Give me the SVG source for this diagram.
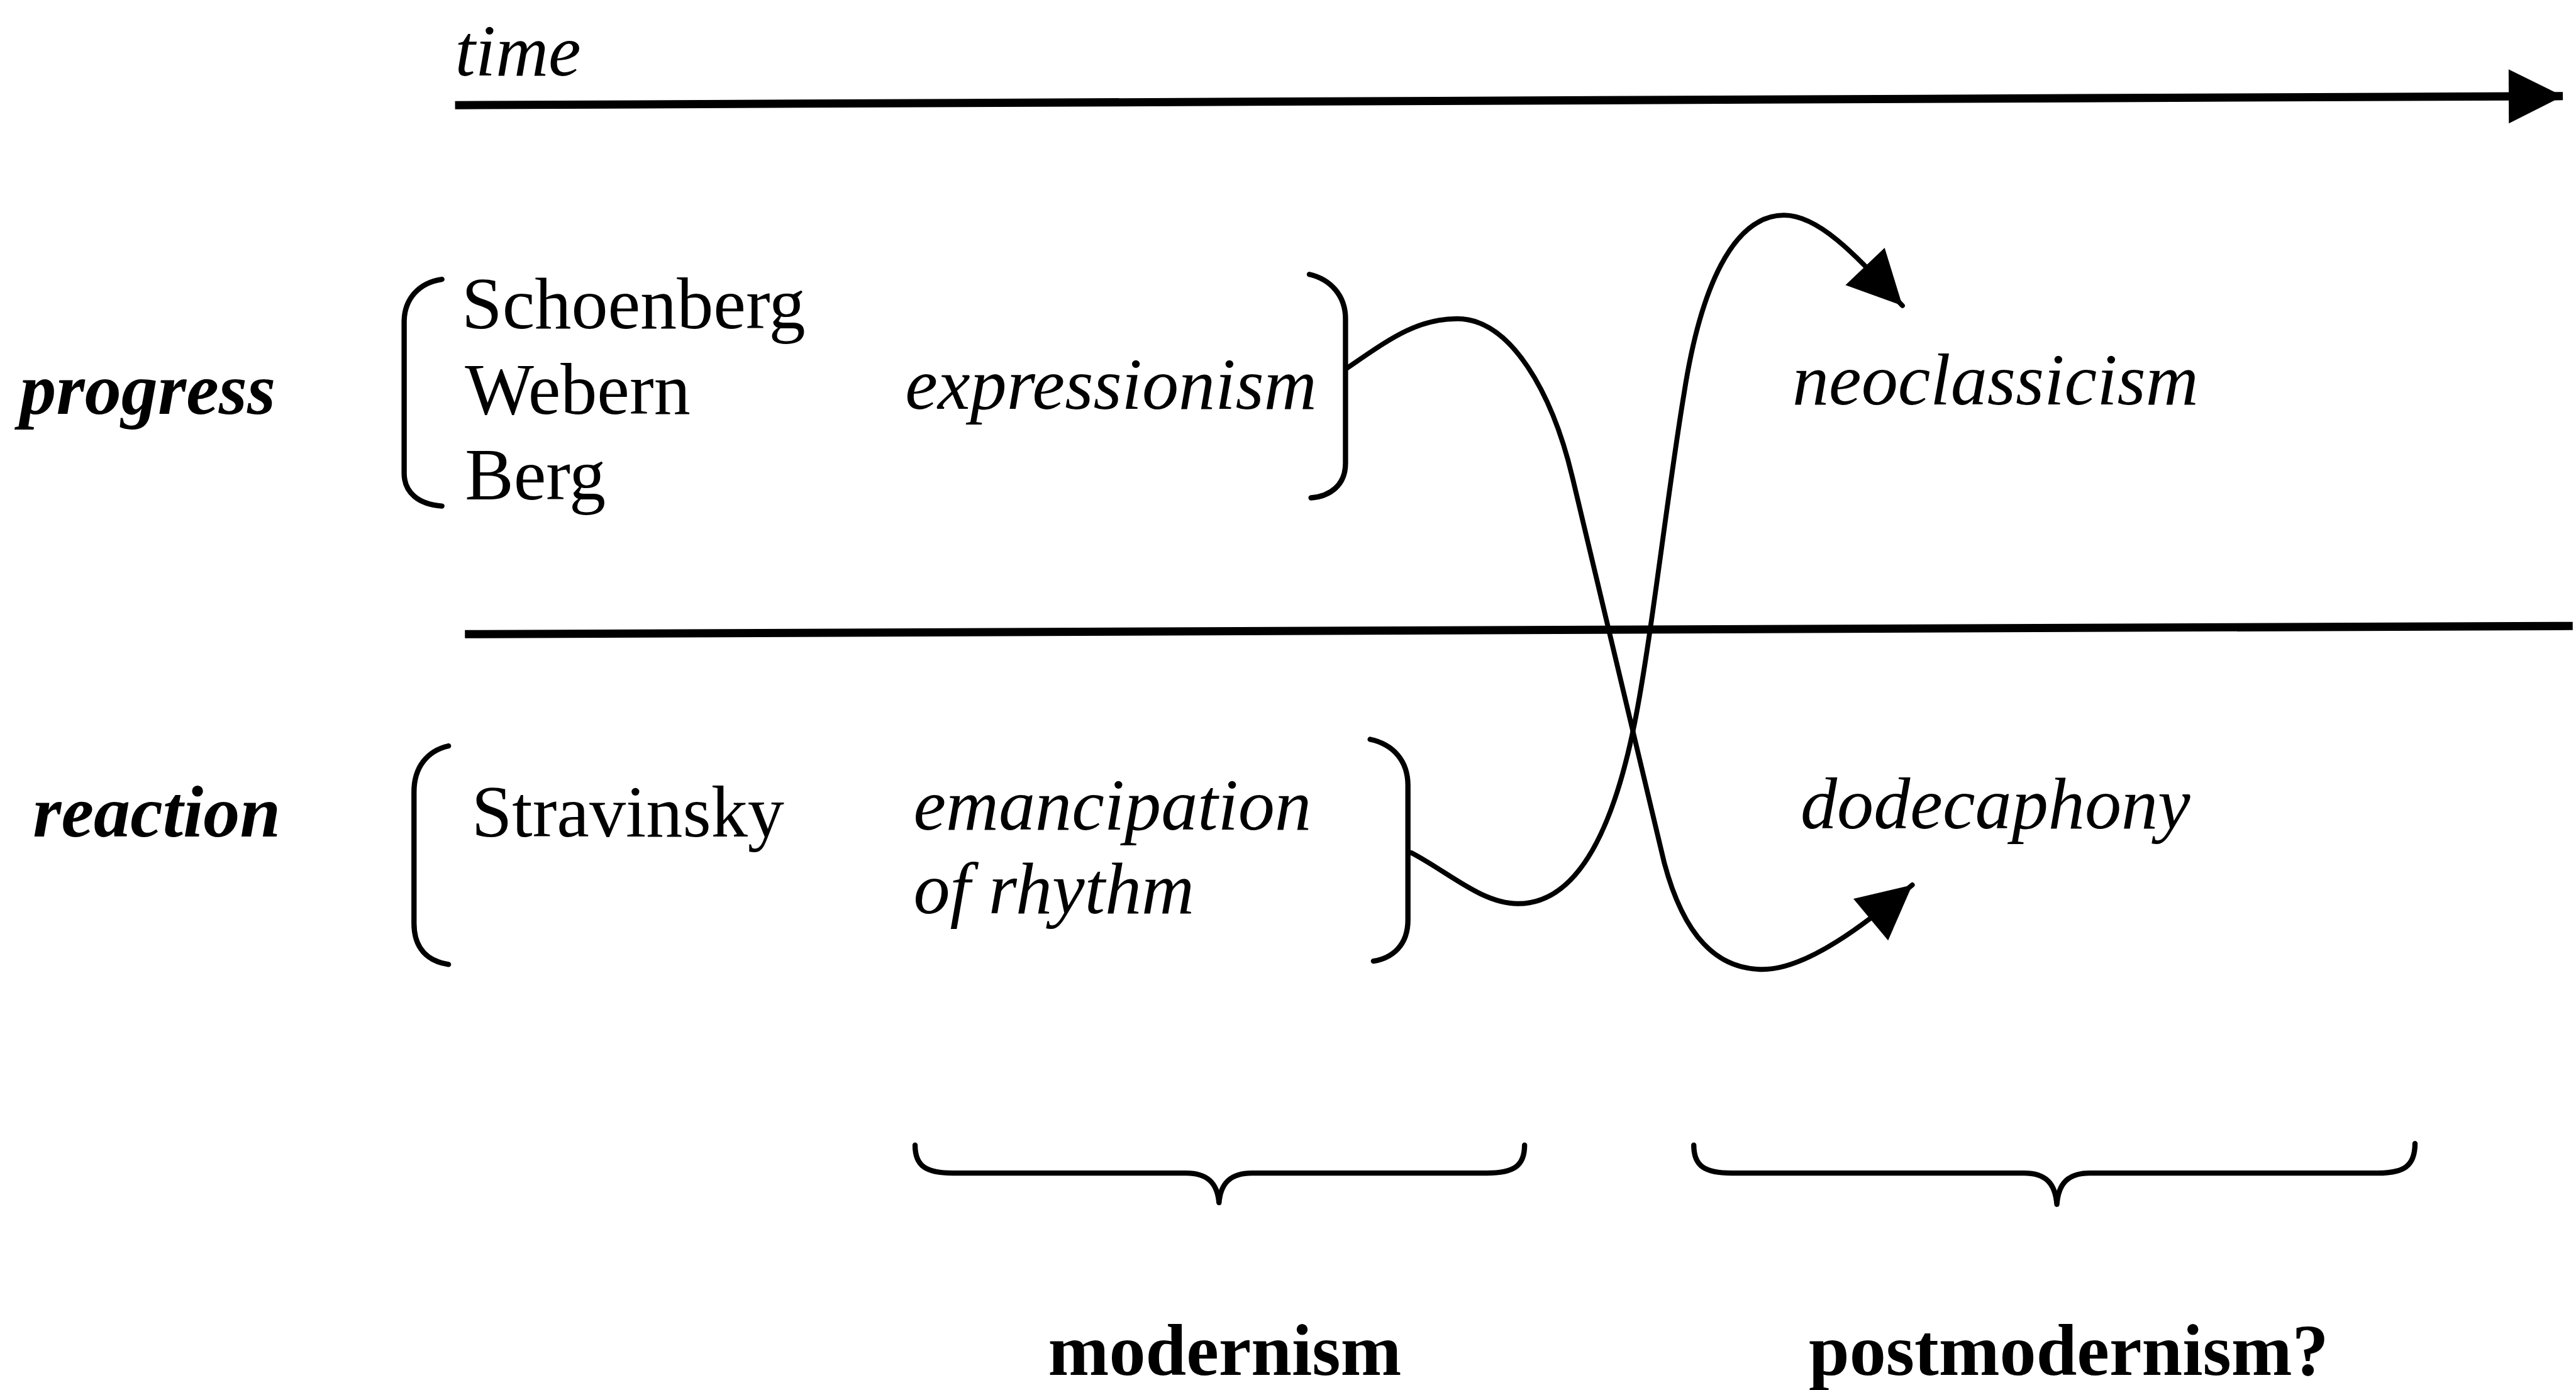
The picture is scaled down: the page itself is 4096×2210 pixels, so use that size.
<svg xmlns="http://www.w3.org/2000/svg" width="4096" height="2210" viewBox="0 0 4096 2210">
<style>
text{font-family:"Liberation Serif","Times New Roman",serif;font-size:44.5px;fill:#000}
.it{font-style:italic}
.bi{font-style:italic;font-weight:bold}
.b{font-weight:bold}
.br{fill:none;stroke:#000;stroke-width:3.2;stroke-linecap:round;stroke-linejoin:round}
.rule{fill:none;stroke:#000;stroke-width:5}
.con{fill:none;stroke:#000;stroke-width:3;stroke-linecap:round}
</style>
<defs>
<marker id="ah" markerUnits="userSpaceOnUse" markerWidth="40" markerHeight="40" viewBox="-2 -16 34 32" refX="28" refY="0" orient="auto">
<path d="M0,-14 L28,0 L0,14 Z" fill="#000"/>
</marker>
</defs>
<rect width="4096" height="2210" fill="#fff"/>
<g transform="scale(2.61224)">
<g id="axes">
<text class="it" x="277" y="46">time</text>
<path class="rule" d="M277,64 L1560,58.5" marker-end="url(#ah)"/>
<path class="rule" d="M283,386 L1566,381"/>
</g>
<g id="row-labels">
<text class="bi" x="12" y="252">progress</text>
<text class="bi" x="20" y="509">reaction</text>
</g>
<g id="composers-progress">
<path class="br" d="M269,170 C255,172 246,182 246,196 L246,288 C246,300 255,307 269,308"/>
<text x="281" y="200">Schoenberg</text>
<text x="283" y="252">Webern</text>
<text x="283" y="304">Berg</text>
</g>
<g id="expressionism">
<text class="it" x="551" y="249">expressionism</text>
<path class="br" d="M797,167 C810,170 819,180 819,194 L819,282 C819,295 810,302 798,303"/>
</g>
<g id="neoclassicism">
<text class="it" x="1091" y="246">neoclassicism</text>
</g>
<g id="composers-reaction">
<path class="br" d="M273,454 C260,457 252,467 252,482 L252,562 C252,577 260,585 273,587"/>
<text x="287" y="509">Stravinsky</text>
</g>
<g id="emancipation">
<text class="it" x="556" y="505">emancipation</text>
<text class="it" x="556" y="556">of rhythm</text>
<path class="br" d="M834,450 C848,453 857,463 857,478 L857,560 C857,575 848,583 836,585"/>
</g>
<g id="dodecaphony">
<text class="it" x="1096" y="504">dodecaphony</text>
</g>
<g id="modernism">
<path class="br" d="M557,697 C557,710 564,714 580,714 L722,714 C735,714 741,720 742,732 C743,720 749,714 762,714 L905,714 C921,714 928,710 928,697"/>
<text class="b" x="638" y="837">modernism</text>
</g>
<g id="postmodernism">
<path class="br" d="M1031,697 C1031,710 1038,714 1054,714 L1232,714 C1245,714 1251,720 1252,733 C1253,720 1259,714 1272,714 L1447,714 C1463,714 1470,710 1470,696"/>
<text class="b" x="1101" y="837">postmodernism?</text>
</g>
<g id="connectors">
<path class="con" d="M820,224 C845,207 862,194 887,194 C920,194 945,240 957,290 L1013,525 C1025,570 1045,590 1073,590 C1100,590 1136,562 1164,538.6" marker-end="url(#ah)"/>
<path class="con" d="M859,519 C882,531 902,550 924,550 C960,550 982,505 995,440 C1005,390 1015,300 1025,240 C1035,175 1055,131 1086,131 C1110,131 1137,164 1158,186" marker-end="url(#ah)"/>
</g>
</g>
</svg>
